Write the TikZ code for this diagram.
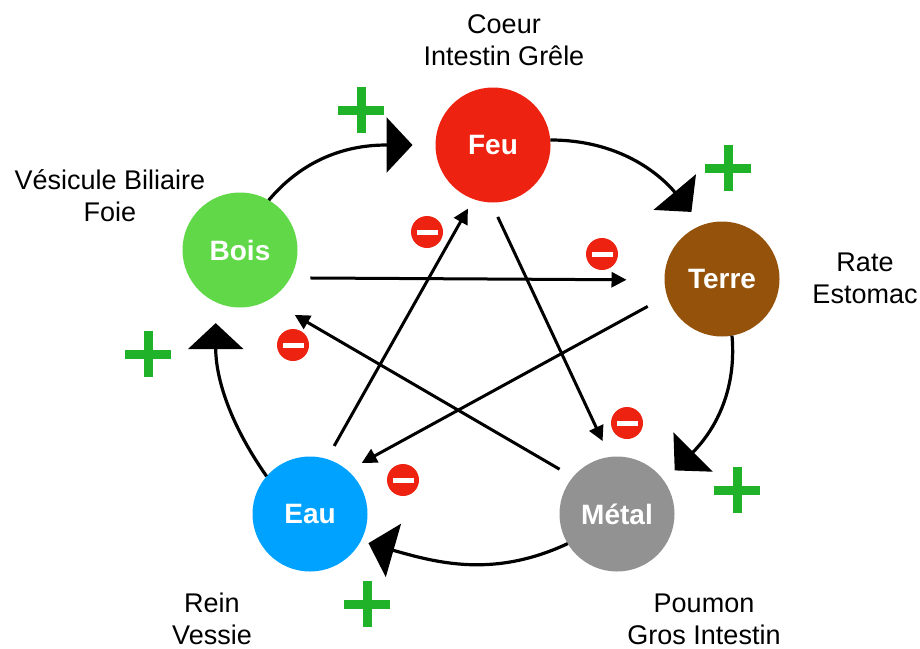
\documentclass[tikz,border=0pt]{standalone}
\usepackage{fontspec}
\setmainfont{Liberation Sans}
\usepackage{tikz}
\usetikzlibrary{arrows.meta,shapes,positioning,calc}
\usepackage{xcolor}

\definecolor{feured}{RGB}{238,34,17}
\definecolor{boisgreen}{RGB}{97,216,72}
\definecolor{terrebrown}{RGB}{148,82,10}
\definecolor{metalgray}{RGB}{146,146,146}
\definecolor{eaublue}{RGB}{0,162,255}
\definecolor{plusgreen}{RGB}{32,178,40}

\tikzset{
    element/.style={circle, minimum size=57.5pt, inner sep=0pt, outer sep=0pt,
        text=white, font=\fontsize{14}{16}\selectfont\bfseries},
    organ/.style={align=center, font=\fontsize{13.5}{16}\selectfont},
    genarrow/.style={line width=1.6pt, -{Triangle[length=13pt,width=27.5pt]}},
    ctrlarrow/.style={line width=1.5pt, -{Triangle[length=7.5pt,width=7.5pt]}},
    minus/.style={circle, fill=feured, minimum size=16pt, inner sep=0pt}
}

\begin{document}
\begin{tikzpicture}[x=0.5pt, y=-0.5pt]
    \useasboundingbox (0,0) rectangle (920,648);

    % Elements
    \node[element, fill=feured] (feu) at (493,145) {Feu};
    \node[element, fill=boisgreen] (bois) at (240,250) {Bois};
    \node[element, fill=terrebrown] (terre) at (722,279) {Terre};
    \node[element, fill=metalgray] (metal) at (617,514) {Métal};
    \node[element, fill=eaublue] (eau) at (310,514) {Eau};

    % Organs
    \node[organ] (coeur) at (504,40) {Coeur\\Intestin Grêle};
    \node[organ] (foie) at (110,196) {Vésicule Biliaire\\Foie};
    \node[organ] (rate) at (865,278) {Rate\\Estomac};
    \node[organ] (poumon) at (704,619) {Poumon\\Gros Intestin};
    \node[organ] (rein) at (212,619) {Rein\\Vessie};

    % Generating cycle
    \draw[genarrow, shorten >=11.5pt] (bois.60) to[out=50, in=180] (feu.180);
    \draw[genarrow, shorten >=8.5pt] (feu.5) to[out=0, in=130] (terre.110);
    \draw[genarrow, shorten >=7.5pt] (terre.-80) to[out=-85, in=45] (metal.35);
    \draw[genarrow, shorten >=4pt] (metal.211) to[out=205, in=-16] (eau.-28);
    \draw[genarrow, shorten >=10.5pt] (eau.139) to[out=125, in=-90] (bois.-115);

    % Control star
    \draw[ctrlarrow, shorten <=10pt, shorten >=19pt] (bois.-29) -- (terre.181);
    \draw[ctrlarrow, shorten <=7.5pt, shorten >=5.5pt] (eau.73) -- (feu.250);
    \draw[ctrlarrow, shorten <=8pt, shorten >=8.75pt] (feu.268) -- (metal.97);
    \draw[ctrlarrow, shorten <=11pt, shorten >=8pt] (terre.197) -- (eau.49);
    \draw[ctrlarrow, shorten <=7.75pt, shorten >=15pt] (metal.140) -- (bois.-60);

    % Signs
    \foreach \x/\y in {361/110, 728/168, 737/490, 367/604, 148/354} {
        \fill[plusgreen] (\x-23,\y-4.5) rectangle (\x+23,\y+4.5);
        \fill[plusgreen] (\x-4.5,\y-23) rectangle (\x+4.5,\y+23);
    }
    \foreach \x/\y [count=\i] in {427/232, 602/254, 627/423, 403/480, 293/345} {
        \node[minus] (minus\i) at (\x,\y) {};
        \fill[white] (\x-10.5,\y-2.5) rectangle (\x+10.5,\y+2.5);
    }
\end{tikzpicture}
\end{document}
